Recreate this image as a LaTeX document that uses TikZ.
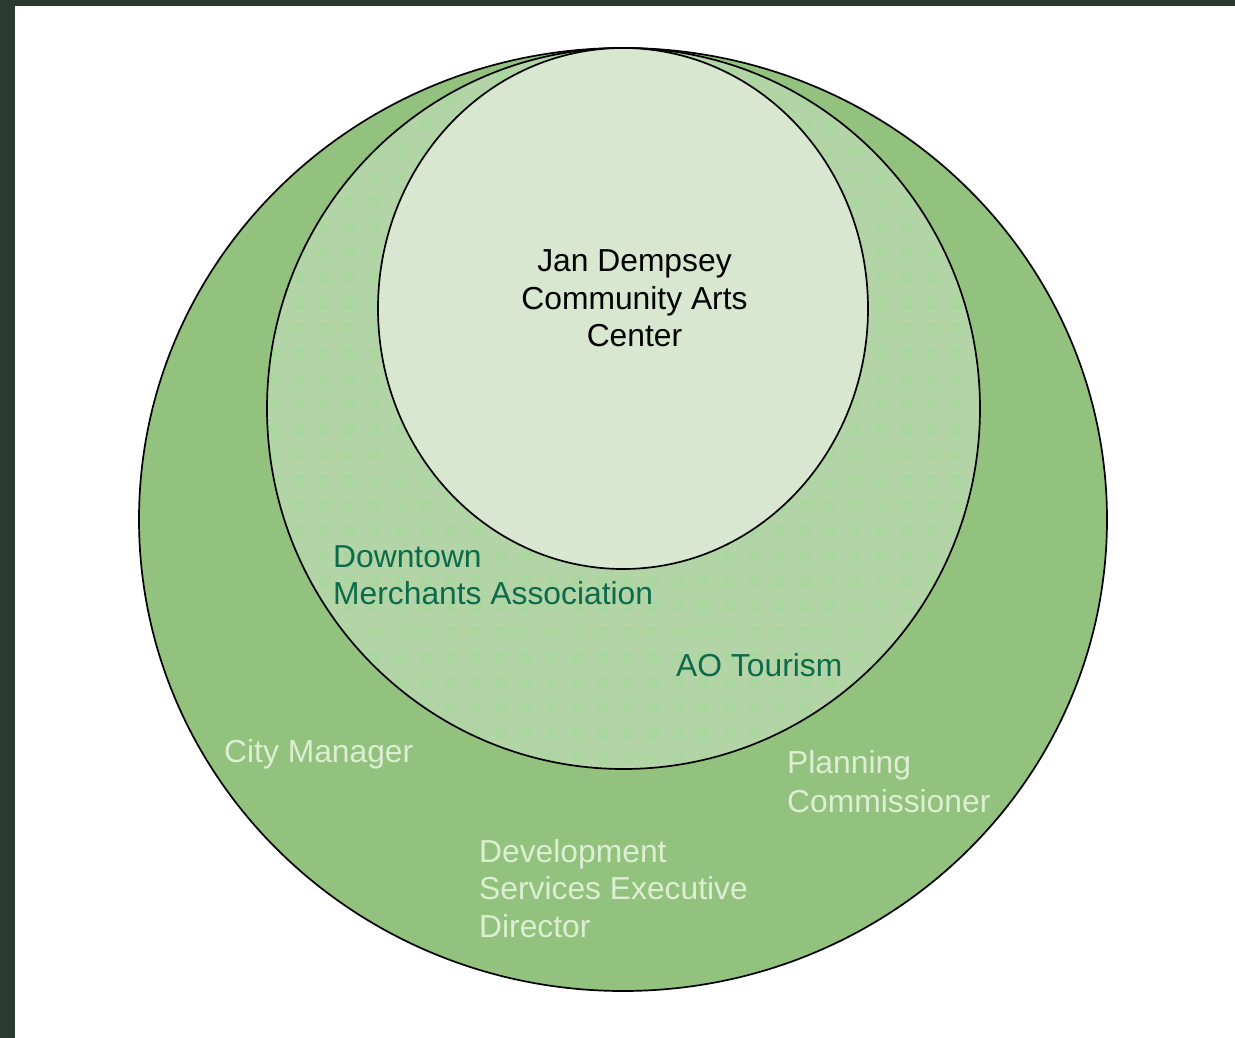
\documentclass[tikz,border=0pt]{standalone}
\usepackage{fontspec}
\setmainfont{Liberation Sans}
\usetikzlibrary{shapes.geometric}
\definecolor{frame}{HTML}{283A31}
\definecolor{outerfill}{HTML}{93C17E}
\definecolor{midfill}{HTML}{B3D4A6}
\definecolor{midsq}{HTML}{ACD6A0}
\definecolor{innerfill}{HTML}{D9E7D0}
\definecolor{outertext}{HTML}{DCEFD3}
\definecolor{midtext}{HTML}{0B6B4B}
\tikzset{
  ring/.style={ellipse, inner sep=0pt, outer sep=0pt, line width=1.7pt},
  lbl/.style={inner sep=0pt, anchor=base west, align=left,
    font=\fontsize{31.8}{37.5}\selectfont},
  outerlbl/.style={lbl, text=outertext},
  midlbl/.style={lbl, text=midtext},
}
\begin{document}
\begin{tikzpicture}[x=1pt,y=-1pt]
\useasboundingbox (0,0) rectangle (1235,1038);
\fill[white] (0,0) rectangle (1235,1038);
\fill[frame] (0,0) rectangle (15,1038);
\fill[frame] (0,0) rectangle (1235,6);
% outer circle
\node[ring, draw=black, fill=outerfill, minimum width=968pt, minimum height=943pt] (outer) at (623,519.5) {};
% middle circle
\node[ring, fill=midfill, minimum width=713pt, minimum height=721pt] (middle) at (623.5,408.5) {};
\begin{scope}
  \clip (623.5,408.5) ellipse [x radius=356.5pt, y radius=360.5pt];
  \foreach \i in {-2,...,30} {
    \foreach \j in {-15,...,16} {
      \fill[midsq] ({299+25.3*\i-5.5},{379+25.3*\j-5.5}) rectangle ++(11,11);
    }
  }
\end{scope}
\node[ring, draw=black, minimum width=713pt, minimum height=721pt] (middleedge) at (623.5,408.5) {};
% inner circle
\node[ring, draw=black, fill=innerfill, minimum width=490pt, minimum height=521pt] (inner) at (623,308.5) {};
% labels (base anchor = baseline of last line)
\node[lbl, anchor=base, align=center] (jan) at (634.5,346.5) {Jan Dempsey\\Community Arts\\Center};
\node[midlbl] (dma) at (333,604.5) {Downtown\\Merchants Association};
\node[midlbl] (ao) at (676,676.5) {AO Tourism};
\node[outerlbl] (city) at (224,762) {City Manager};
\node[outerlbl, font=\fontsize{31.8}{39}\selectfont] (plan) at (787,812) {Planning\\Commissioner};
\node[outerlbl] (dev) at (479,937) {Development\\Services Executive\\Director};
\end{tikzpicture}
\end{document}
